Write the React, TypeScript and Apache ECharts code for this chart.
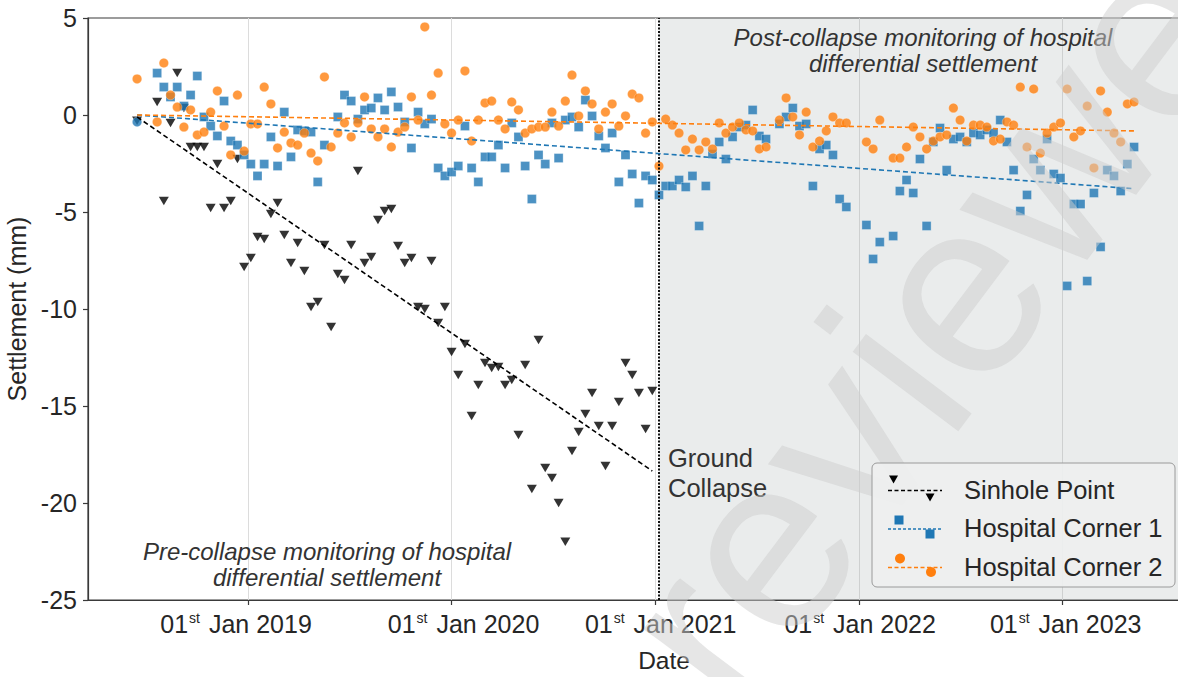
import React, { useEffect, useRef } from 'react';
import * as echarts from 'echarts';

// Acquisition dates (12-day revisit)
const dates = [
  '2018-06-16','2018-06-28','2018-07-10','2018-07-22','2018-08-03','2018-08-15','2018-08-27','2018-09-08','2018-09-20','2018-10-02',
  '2018-10-14','2018-10-26','2018-11-07','2018-11-19','2018-12-01','2018-12-13','2018-12-25','2019-01-06','2019-01-18','2019-01-30',
  '2019-02-11','2019-02-23','2019-03-07','2019-03-19','2019-03-31','2019-04-12','2019-04-24','2019-05-06','2019-05-18','2019-05-30',
  '2019-06-11','2019-06-23','2019-07-05','2019-07-17','2019-07-29','2019-08-10','2019-08-22','2019-09-03','2019-09-15','2019-09-27',
  '2019-10-09','2019-10-21','2019-11-02','2019-11-14','2019-11-26','2019-12-08','2019-12-20','2020-01-01','2020-01-13','2020-01-25',
  '2020-02-06','2020-02-18','2020-03-01','2020-03-13','2020-03-25','2020-04-06','2020-04-18','2020-04-30','2020-05-12','2020-05-24',
  '2020-06-05','2020-06-17','2020-06-29','2020-07-11','2020-07-23','2020-08-04','2020-08-16','2020-08-28','2020-09-09','2020-09-21',
  '2020-10-03','2020-10-15','2020-10-27','2020-11-08','2020-11-20','2020-12-02','2020-12-14','2020-12-26','2021-01-07','2021-01-19',
  '2021-01-31','2021-02-12','2021-02-24','2021-03-08','2021-03-20','2021-04-01','2021-04-13','2021-04-25','2021-05-07','2021-05-19',
  '2021-05-31','2021-06-12','2021-06-24','2021-07-06','2021-07-18','2021-07-30','2021-08-11','2021-08-23','2021-09-04','2021-09-16',
  '2021-09-28','2021-10-10','2021-10-22','2021-11-03','2021-11-15','2021-11-27','2021-12-09','2021-12-21','2022-01-02','2022-01-14',
  '2022-01-26','2022-02-07','2022-02-19','2022-03-03','2022-03-15','2022-03-27','2022-04-08','2022-04-20','2022-05-02','2022-05-14',
  '2022-05-26','2022-06-07','2022-06-19','2022-07-01','2022-07-13','2022-07-25','2022-08-06','2022-08-18','2022-08-30','2022-09-11',
  '2022-09-23','2022-10-05','2022-10-17','2022-10-29','2022-11-10','2022-11-22','2022-12-04','2022-12-16','2022-12-28','2023-01-09',
  '2023-01-21','2023-02-02','2023-02-14','2023-02-26','2023-03-10','2023-03-22','2023-04-03','2023-04-15','2023-04-27','2023-05-09',
];

// Sinhole Point settlement (mm), until the ground collapse
const sinholePoint = [
  -0.3, null, null, 0.67, -4.43, -0.41, 2.16, 0.36, -1.65, -1.65,
  -1.65, -4.8, -2.53, -4.8, -4.43, -2.27, -7.84, -7.37, -6.29, -6.39,
  -5.1, -4.54, -6.19, -7.63, -6.6, -8.04, -9.9, -9.64, -6.7, -10.93,
  -8.2, -8.51, -6.7, -2.89, -7.63, -7.32, -5.41, -4.95, -4.85, -6.75,
  -7.63, -7.37, -9.9, -10.0, -7.53, -10.72, -9.9, -12.22, -13.4, -11.8,
  -15.52, -13.92, -12.78, -13.04, -12.99, -13.92, -13.66, -16.49, -12.89, -19.28,
  -11.6, -18.2, -18.71, -20.0, -22.0, -17.32, -16.34, -15.41, -14.33, -16.03,
  -18.09, -16.03, -14.79, -12.78, -13.4, -14.33, -16.19, -14.23,
];

// Hospital Corner 1 settlement (mm)
const hospitalCorner1 = [
  -0.36, null, null, 2.16, 1.44, 0.93, 1.44, 0.46, 1.03, 2.01,
  -0.1, -0.57, -1.08, 0.72, -1.34, -1.55, -2.06, -2.53, -3.14, -2.53,
  -1.13, -2.63, 0.15, -2.16, -0.77, -0.82, -0.88, -3.45, -1.55, null,
  -0.1, 1.03, 0.72, -0.21, 0.26, 0.36, 0.88, 0.26, 1.19, 0.41,
  -0.36, -1.7, 0.15, -0.46, -0.21, -2.73, -3.14, -2.94, -2.63, -0.57,
  -2.73, -3.45, -2.16, -2.16, -1.55, -2.73, -0.41, -1.13, -2.63, -4.33,
  -2.06, -2.53, -0.41, -2.22, -0.26, -0.1, -0.62, 0.77, -0.05, -1.08,
  -1.7, -0.93, -3.45, -2.06, -3.04, -4.54, -3.14, -3.35, -4.12, -3.66,
  -3.66, -3.35, -3.71, -3.14, -5.72, -3.66, -2.01, -1.39, -2.27, -1.13,
  -0.62, -0.52, 0.26, -1.08, -1.24, null, -0.46, -0.1, 0.36, -0.57,
  -0.46, -3.66, -1.75, -1.55, -2.06, -4.33, -4.74, null, null, -5.67,
  -7.42, -6.55, null, -6.24, -3.92, -3.35, -4.02, -2.27, -5.72, -1.39,
  -0.67, -2.84, -1.24, -1.13, -1.39, -0.93, -1.03, -0.77, -0.93, -0.26,
  -1.39, -2.84, -4.95, -4.12, -2.27, -2.84, -1.24, -3.04, -3.25, -8.81,
  -4.59, -4.59, -8.56, -4.02, -6.8, -2.84, -3.14, -3.92, -2.53, -1.65,
];

// Hospital Corner 2 settlement (mm)
const hospitalCorner2 = [
  1.86, null, null, -0.36, 2.68, 1.03, 0.41, -0.62, 0.26, -1.03,
  -0.88, 0.15, 1.24, -0.57, -2.06, 1.03, -1.86, -0.46, -0.46, 1.44,
  0.57, -1.7, -0.88, -1.44, -1.55, -0.93, -1.96, -2.37, 1.96, -1.65,
  -0.93, -0.41, -1.13, -0.41, 0.93, -0.72, -1.13, -0.72, -1.65, -0.88,
  -0.62, 0.93, -0.26, 4.54, 1.03, 2.16, -0.46, -0.93, -0.26, 2.27,
  -1.34, -0.26, 0.62, 0.72, -0.26, -0.72, 0.67, 0.26, -0.93, -0.72,
  -0.62, -0.62, 0.15, -0.57, 0.72, 2.06, -0.05, 1.24, 0.57, -0.72,
  0.15, 0.57, -0.57, -0.05, 1.08, 0.88, -0.93, -0.36, -2.63, -0.21,
  -0.52, -0.93, -1.8, -1.24, -1.8, -1.39, -1.75, -0.41, -0.93, -0.62,
  -0.41, -0.77, -0.82, -1.75, -1.65, null, -0.26, 0.88, -0.1, -1.03,
  0.15, -1.65, -1.34, -0.82, -0.1, -0.41, -0.41, null, null, -1.39,
  -1.75, -0.26, null, -2.22, -2.22, -1.65, -0.62, -1.13, -1.75, -1.34,
  -1.13, -1.03, 0.36, -0.26, -1.34, -0.52, -0.52, -0.62, -1.34, -1.24,
  -0.36, -0.52, 1.44, -1.65, 1.34, -1.96, -0.93, -0.62, -0.41, 1.34,
  -1.13, -0.82, 0.46, -2.73, 1.24, 0.15, -0.93, -1.39, 0.57, 0.67,
];

// Linear trend lines (start / end)
const sinholeTrendDates = ['2018-06-16', '2020-12-26'];
const sinholeTrend = [-0.1, -18.35];
const hospitalTrendDates = ['2018-06-16', '2023-05-09'];
const corner1Trend = [0.0, -3.8];
const corner2Trend = [0.0, -0.82];

const collapseDate = '2021-01-07';
const xMin = '2018-03-20';
const xMax = '2023-11-15';
const yMin = -25;
const yMax = 5;
const yStep = 5;

// horizontal nudges of the year labels (px), as placed in the original figure
const yearLabelShift: Record<number, number> = { 2019: -12, 2020: 12, 2021: 5, 2022: 1, 2023: 3 };

const FONT = '"Liberation Sans", Arial, Helvetica, sans-serif';
const BLACK = '#000000';
const BLUE = '#1f77b4';
const ORANGE = '#ff7f0e';
const TEXT = '#262626';

function toPoints(vals: (number | null)[]) {
  const out: [string, number][] = [];
  vals.forEach((v, i) => {
    if (v !== null && v !== undefined) out.push([dates[i], v]);
  });
  return out;
}

function trend(ds: string[], vs: number[]) {
  return ds.map((d, i) => [d, vs[i]]);
}

function tri(cx: number, cy: number) {
  return [[cx - 4.5, cy - 4], [cx + 4.5, cy - 4], [cx, cy + 4]];
}

export default function App() {
  const ref = useRef<HTMLDivElement>(null);

  useEffect(() => {
    if (!ref.current) return;
    const chart = echarts.init(ref.current, null, { renderer: 'svg' });

    const corner1Data: any[] = toPoints(hospitalCorner1).map((p, k) =>
      k === 0 ? { value: p, symbol: 'circle', symbolSize: 9.5 } : p
    );

    const rich: any = {
      sup: { fontSize: 14, lineHeight: 12, verticalAlign: 'top', color: TEXT, padding: [0, 2, 0, 1] },
    };
    Object.keys(yearLabelShift).forEach((k) => {
      const w = Math.abs(yearLabelShift[+k]) * 2;
      if (w > 0) rich['g' + w] = { width: w, fontSize: 25 };
    });

    const legendRows = [
      { y: 489.5, name: 'Sinhole Point', color: BLACK, kind: 'tri', dash: [4, 2.5] },
      { y: 528, name: 'Hospital Corner 1', color: BLUE, kind: 'rect', dash: [3, 2] },
      { y: 566.5, name: 'Hospital Corner 2', color: ORANGE, kind: 'circle', dash: [4, 2.5] },
    ];
    const legendEls: any[] = [
      {
        type: 'rect',
        z: 60,
        shape: { x: 872, y: 463, width: 303, height: 124, r: 5 },
        style: { fill: 'rgba(238,239,239,0.9)', stroke: '#9a9a9a', lineWidth: 1 },
      },
    ];
    legendRows.forEach((r) => {
      legendEls.push({
        type: 'line',
        z: 61,
        shape: { x1: 888, y1: r.y + 1, x2: 942, y2: r.y + 1 },
        style: { stroke: r.color, lineWidth: 1.6, lineDash: r.dash },
      });
      if (r.kind === 'tri') {
        legendEls.push({ type: 'polygon', z: 62, shape: { points: tri(893.5, r.y - 10) }, style: { fill: r.color } });
        legendEls.push({ type: 'polygon', z: 62, shape: { points: tri(930, r.y + 8) }, style: { fill: r.color } });
      } else if (r.kind === 'rect') {
        legendEls.push({ type: 'rect', z: 62, shape: { x: 899 - 4.5, y: r.y - 8 - 4.5, width: 9, height: 9 }, style: { fill: r.color } });
        legendEls.push({ type: 'rect', z: 62, shape: { x: 930 - 4.5, y: r.y + 6 - 4.5, width: 9, height: 9 }, style: { fill: r.color } });
      } else {
        legendEls.push({ type: 'circle', z: 62, shape: { cx: 900, cy: r.y - 8, r: 5 }, style: { fill: r.color } });
        legendEls.push({ type: 'circle', z: 62, shape: { cx: 931, cy: r.y + 5.5, r: 5 }, style: { fill: r.color } });
      }
      legendEls.push({
        type: 'text',
        z: 62,
        x: 964,
        y: r.y,
        style: {
          text: r.name,
          fontSize: 25.5,
          fontFamily: FONT,
          fill: TEXT,
          align: 'left',
          verticalAlign: 'middle',
          textAlign: 'left',
          textVerticalAlign: 'middle',
        },
      });
    });

    const wmAngle = (53 * Math.PI) / 180;

    const option: any = {
      animation: false,
      backgroundColor: '#ffffff',
      textStyle: { fontFamily: FONT },
      grid: {
        left: 88,
        top: 18,
        right: -62,
        bottom: 77,
        show: true,
        borderColor: '#3a3a3a',
        borderWidth: 1.2,
        backgroundColor: 'transparent',
        containLabel: false,
        outerBoundsMode: 'none',
      },
      xAxis: {
        type: 'time',
        min: xMin,
        max: xMax,
        splitNumber: 6,
        name: 'Date',
        nameLocation: 'middle',
        nameGap: 48,
        nameTextStyle: { fontSize: 24.5, color: TEXT, fontFamily: FONT },
        axisLine: { show: true, onZero: false, lineStyle: { color: '#3a3a3a', width: 1.2 } },
        axisTick: { show: true, length: 5, lineStyle: { color: '#3a3a3a', width: 1.2 } },
        minorTick: { show: false },
        splitLine: { show: true, lineStyle: { color: '#dcdcdc', width: 1 } },
        axisLabel: {
          show: true,
          showMinLabel: false,
          showMaxLabel: false,
          hideOverlap: false,
          fontSize: 25,
          color: TEXT,
          margin: 11,
          lineHeight: 26,
          formatter: (val: number) => {
            const d = new Date(val);
            if (d.getMonth() !== 0 || d.getDate() !== 1) return '';
            const y = d.getFullYear();
            const s = yearLabelShift[y] || 0;
            const main = '01{sup|st} Jan ' + y;
            if (s > 0) return '{g' + s * 2 + '| }' + main;
            if (s < 0) return main + '{g' + -s * 2 + '| }';
            return main;
          },
          rich,
        },
      },
      yAxis: {
        type: 'value',
        min: yMin,
        max: yMax,
        interval: yStep,
        name: 'Settlement (mm)',
        nameLocation: 'middle',
        nameGap: 52,
        nameTextStyle: { fontSize: 25, color: TEXT, fontFamily: FONT },
        axisLine: { show: true, onZero: false, lineStyle: { color: '#3a3a3a', width: 1.2 } },
        axisTick: { show: true, length: 5, lineStyle: { color: '#3a3a3a', width: 1.2 } },
        splitLine: { show: false },
        axisLabel: { fontSize: 25, color: TEXT, margin: 11 },
      },
      series: [
        {
          type: 'line',
          name: 'collapse',
          data: [],
          silent: true,
          markArea: {
            silent: true,
            itemStyle: { color: 'rgba(150,162,162,0.2)' },
            data: [[{ xAxis: collapseDate }, { xAxis: xMax }]],
          },
          markLine: {
            silent: true,
            symbol: ['none', 'none'],
            label: { show: false },
            lineStyle: { type: [2, 1.5], color: '#111', width: 2 },
            data: [{ xAxis: collapseDate }],
          },
        },
        {
          type: 'scatter',
          name: 'Sinhole Point',
          data: toPoints(sinholePoint),
          symbol: 'triangle',
          symbolRotate: 180,
          symbolSize: [10, 8.5],
          itemStyle: { color: BLACK },
          z: 3,
        },
        {
          type: 'scatter',
          name: 'Hospital Corner 1',
          data: corner1Data,
          symbol: 'rect',
          symbolSize: 9,
          itemStyle: { color: BLUE, borderColor: 'rgba(255,255,255,0.6)', borderWidth: 0.6 },
          z: 3,
        },
        {
          type: 'scatter',
          name: 'Hospital Corner 2',
          data: toPoints(hospitalCorner2),
          symbol: 'circle',
          symbolSize: 9.5,
          itemStyle: { color: ORANGE, borderColor: 'rgba(255,255,255,0.6)', borderWidth: 0.6 },
          z: 3,
        },
        {
          type: 'line',
          name: 'Sinhole trend',
          data: trend(sinholeTrendDates, sinholeTrend),
          symbol: 'none',
          silent: true,
          lineStyle: { color: BLACK, width: 1.6, type: [5, 3] },
          z: 5,
        },
        {
          type: 'line',
          name: 'Corner 1 trend',
          data: trend(hospitalTrendDates, corner1Trend),
          symbol: 'none',
          silent: true,
          lineStyle: { color: BLUE, width: 1.6, type: [5, 3] },
          z: 5,
        },
        {
          type: 'line',
          name: 'Corner 2 trend',
          data: trend(hospitalTrendDates, corner2Trend),
          symbol: 'none',
          silent: true,
          lineStyle: { color: ORANGE, width: 1.6, type: [5, 3] },
          z: 5,
        },
      ],
      graphic: [
        {
          type: 'text',
          z: 40,
          x: 923,
          y: 50,
          style: {
            text: 'Post-collapse monitoring of hospital\ndifferential settlement',
            fontSize: 24,
            fontStyle: 'italic',
            fontFamily: FONT,
            lineHeight: 26,
            fill: '#333333',
            align: 'center',
            verticalAlign: 'middle',
            textAlign: 'center',
            textVerticalAlign: 'middle',
          },
        },
        {
          type: 'text',
          z: 40,
          x: 327,
          y: 564,
          style: {
            text: 'Pre-collapse monitoring of hospital\ndifferential settlement',
            fontSize: 24,
            fontStyle: 'italic',
            fontFamily: FONT,
            lineHeight: 26,
            fill: '#333333',
            align: 'center',
            verticalAlign: 'middle',
            textAlign: 'center',
            textVerticalAlign: 'middle',
          },
        },
        {
          type: 'text',
          z: 40,
          x: 668,
          y: 473,
          style: {
            text: 'Ground\nCollapse',
            fontSize: 25.5,
            fontFamily: FONT,
            lineHeight: 29.5,
            fill: '#333333',
            align: 'left',
            verticalAlign: 'middle',
            textAlign: 'left',
            textVerticalAlign: 'middle',
          },
        },
        {
          type: 'text',
          z: 50,
          silent: true,
          x: 670,
          y: 670,
          rotation: wmAngle,
          style: {
            text: 'reviewed',
            fontSize: 250,
            fontFamily: FONT,
            fill: 'rgba(205,205,205,0.5)',
            align: 'left',
            verticalAlign: 'middle',
            textAlign: 'left',
            textVerticalAlign: 'middle',
          },
        },
        ...legendEls,
      ],
    };

    chart.setOption(option);
    return () => {
      chart.dispose();
    };
  }, []);

  return (
    <div
      ref={ref}
      style={{ position: 'fixed', left: 0, top: 0, width: 1178, height: 677, background: '#fff' }}
    />
  );
}
